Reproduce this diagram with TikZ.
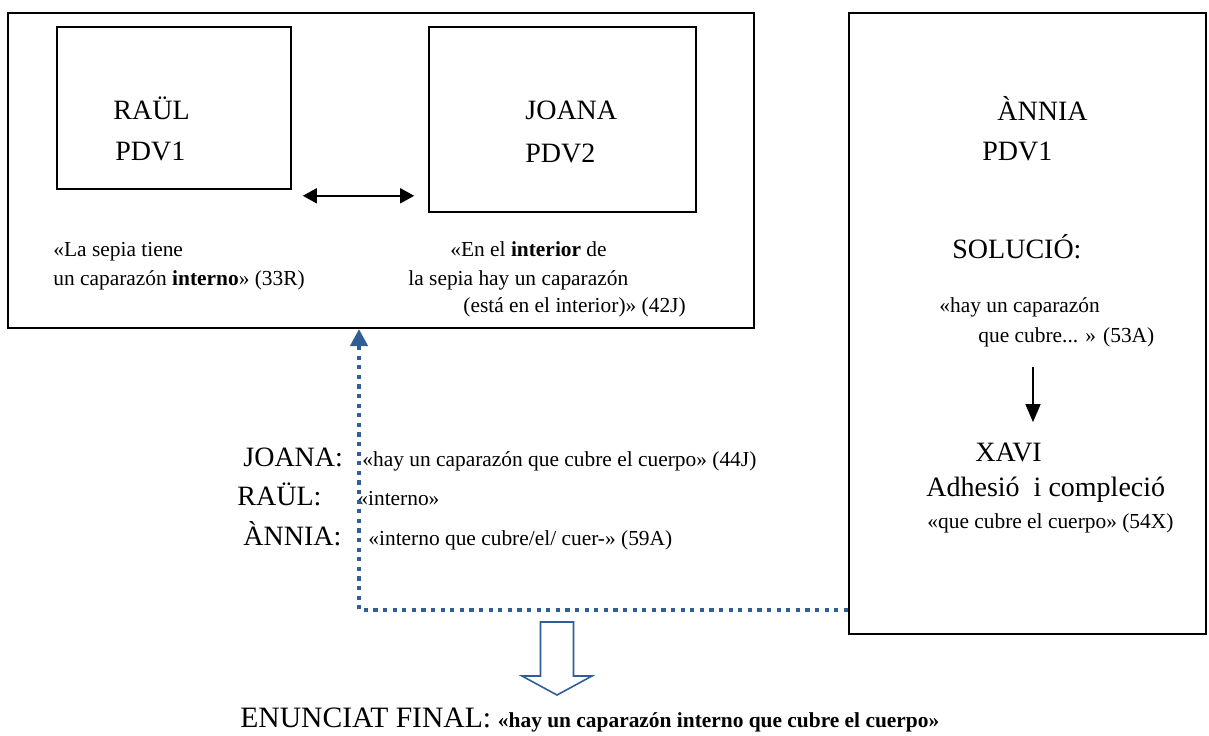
\documentclass[tikz,border=0pt]{standalone}
\usepackage{fontspec}
\setmainfont{Liberation Serif}
\usetikzlibrary{arrows.meta,fit,calc}
\definecolor{wblue}{RGB}{49,94,150}
\begin{document}
\begin{tikzpicture}[x=0.5pt,y=-0.5pt,
  big/.style={font=\fontsize{14}{16}\selectfont, inner sep=0pt, anchor=base west},
  small/.style={font=\fontsize{10.7}{12}\selectfont, inner sep=0pt, anchor=base west},
  frame/.style={draw, line width=1pt, inner sep=0pt},
  ibox/.style={draw, line width=0.8pt, inner sep=0pt},
  dots/.style={draw=wblue, line width=2pt, dash pattern=on 2.1pt off 2.7pt},
  arr/.style={-{Triangle[length=9pt,width=7.5pt]}, line width=0.75pt},
  dbl/.style={{Triangle[length=7pt,width=7.5pt]}-{Triangle[length=7pt,width=7.5pt]}, line width=0.75pt},
  hollow/.style={draw=wblue, line width=0.8pt, line join=miter}]
\useasboundingbox (0,0) rectangle (1209,735);

% left frame and inner boxes
\node[frame, fit={(8,13) (754,328)}] (outer) {};
\node[ibox, fit={(57,27) (291,189)}] (raul) {};
\node[ibox, fit={(429,27) (696,212)}] (joana) {};

\node[big] (raulname) at (113,119) {RAÜL};
\node[big] (raulpdv) at (115,160) {PDV1};
\node[big] (joananame) at (525,119) {JOANA};
\node[big] (joanapdv) at (525,162) {PDV2};

\draw[dbl] ($(raul.south east)+(11,6)$) -- ($(raul.south east -| joana.west)+(-14,6)$);

\node[small] (q33a) at (53,256) {«La sepia tiene};
\node[small] (q33b) at (53,285) {un caparazón \textbf{interno}» (33R)};
\node[small] (q42a) at (450,256) {«En el \textbf{interior} de};
\node[small] (q42b) at (408,285) {la sepia hay un caparazón};
\node[small] (q42c) at (463,312) {(está en el interior)» (42J)};

% right frame
\node[frame, fit={(849,13) (1206,634)}] (rbox) {};
\node[big] (annia) at (997,120) {ÀNNIA};
\node[big] (anniapdv) at (982,160) {PDV1};
\node[big] (solucio) at (952,258) {SOLUCIÓ:};
\node[small] (q53a) at (939,312) {«hay un caparazón};
\node[small] (q53b) at (978,342) {que cubre... » (53A)};
\node[big] (xavi) at (975,461) {XAVI};
\node[big] (adhesio) at (926,496) {Adhesió\ \ i compleció};
\node[small] (q54) at (927,528) {«que cubre el cuerpo» (54X)};
\coordinate (downx) at (1033,0);
\draw[arr, shorten <=10pt, shorten >=10pt] (q53b.south -| downx) -- (xavi.north -| downx);

% middle labels
\node[big] (lj) at (243,466) {JOANA:};
\node[big] (lr) at (237,505) {RAÜL:};
\node[big] (la) at (243,545) {ÀNNIA:};
\node[small] (sj) at (362,466) {«hay un caparazón que cubre el cuerpo» (44J)};
\node[small] (sr) at (357,505) {«interno»};
\node[small] (sa) at (368,545) {«interno que cubre/el/ cuer-» (59A)};

% dotted connector
\coordinate (corner) at (359,610);
\draw[dots, -{Triangle[length=8.5pt,width=8.5pt,fill=wblue]}] (rbox.west |- corner) -- (corner) -- (corner |- outer.south);

% hollow arrow
\draw[hollow] (540.5,622) -- (573.5,622) -- (573.5,676) -- (592,676) -- (557,695) -- (522,676) -- (540.5,676) -- cycle;

% final statement
\node[big, font=\fontsize{14.8}{16}\selectfont] (enun) at (240,727) {ENUNCIAT FINAL:};
\node[small, font=\fontsize{10.7}{12}\selectfont\bfseries] (final) at ($(enun.base east)+(6,0)$) {«hay un caparazón interno que cubre el cuerpo»};
\end{tikzpicture}
\end{document}
